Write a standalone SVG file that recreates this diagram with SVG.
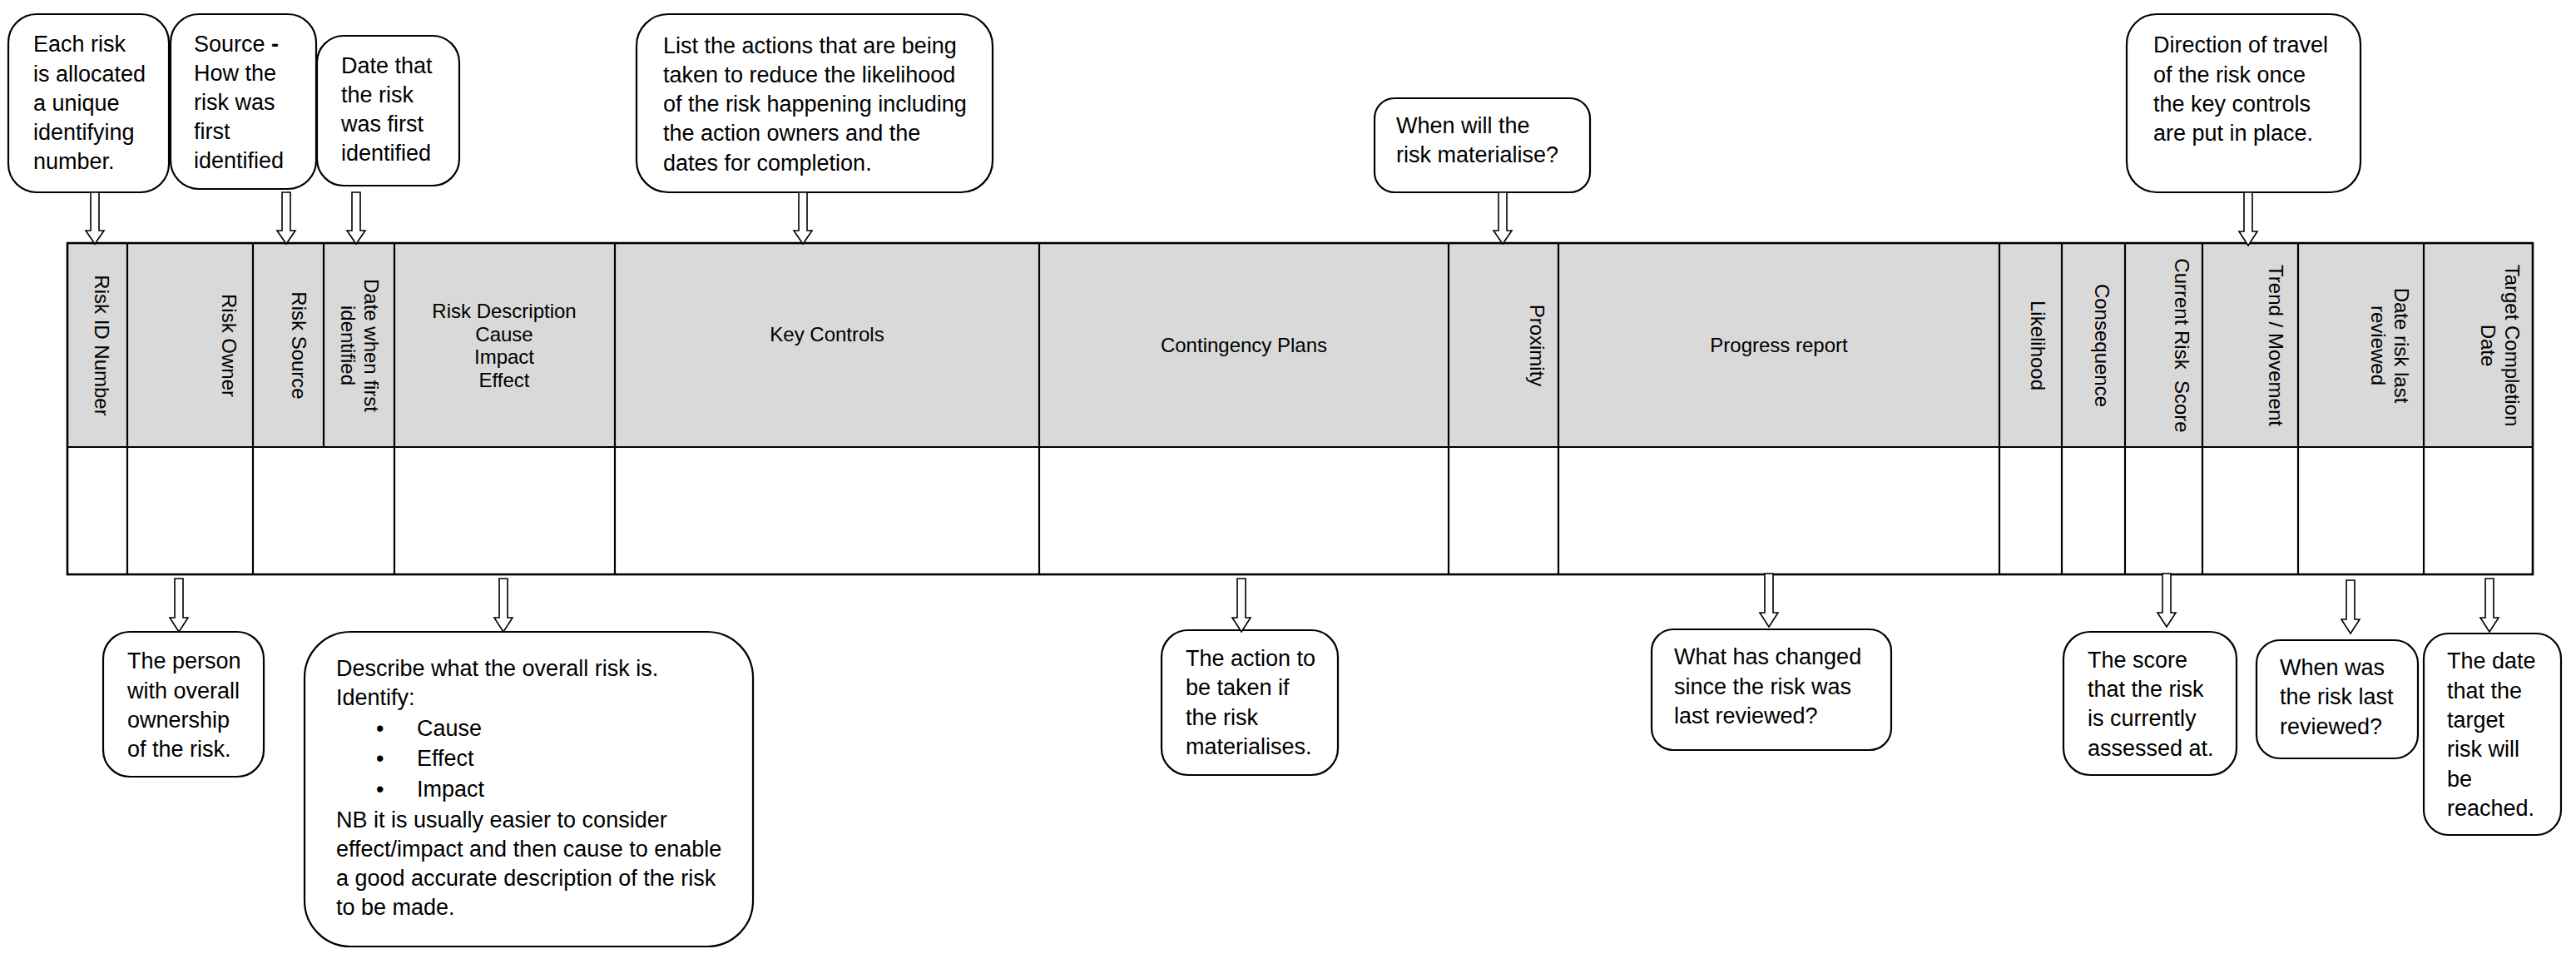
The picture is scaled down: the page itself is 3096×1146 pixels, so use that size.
<svg xmlns="http://www.w3.org/2000/svg" width="3096" height="1146" viewBox="0 0 3096 1146">
  <style>
    .bg { fill: #ffffff; }
    .head { fill: #d9d9d9; }
    .frame { fill: none; stroke: #000; stroke-width: 2.6; }
    .rule { stroke: #000; stroke-width: 2.2; }
    .box { fill: #ffffff; stroke: #000; stroke-width: 2.2; }
    .arrow { fill: #ffffff; stroke: #000; stroke-width: 1.6; stroke-linejoin: miter; }
    .ht { font-family: "Liberation Sans", Arial, sans-serif; font-size: 24px; fill: #000; }
    .ct { font-family: "Liberation Sans", Arial, sans-serif; font-size: 27px; fill: #000; }
    .mid { text-anchor: middle; }
  </style>
  <defs>
    <!-- hollow block arrow pointing down, origin at the tail centre -->
    <path id="blk" d="M -5 0 L 5 0 L 5 46 L 11 46 L 0 62 L -11 46 L -5 46 Z"/>
    <path id="blk64" d="M -5 0 L 5 0 L 5 47 L 11 47 L 0 64 L -11 47 L -5 47 Z"/>
  </defs>
  <rect class="bg" x="0" y="0" width="3096" height="1146"/>

  <!-- register table -->
  <g id="register">
    <rect class="head" x="81" y="292" width="2963" height="245"/>
    <g class="rule">
      <line x1="81" y1="537" x2="3044" y2="537"/>
      <line x1="153" y1="292" x2="153" y2="690"/>
      <line x1="304" y1="292" x2="304" y2="690"/>
      <line x1="389" y1="292" x2="389" y2="537"/>
      <line x1="474" y1="292" x2="474" y2="690"/>
      <line x1="739" y1="292" x2="739" y2="690"/>
      <line x1="1249" y1="292" x2="1249" y2="690"/>
      <line x1="1741" y1="292" x2="1741" y2="690"/>
      <line x1="1873" y1="292" x2="1873" y2="690"/>
      <line x1="2403" y1="292" x2="2403" y2="690"/>
      <line x1="2478" y1="292" x2="2478" y2="690"/>
      <line x1="2554" y1="292" x2="2554" y2="690"/>
      <line x1="2647" y1="292" x2="2647" y2="690"/>
      <line x1="2762" y1="292" x2="2762" y2="690"/>
      <line x1="2913" y1="292" x2="2913" y2="690"/>
    </g>
    <rect class="frame" x="81" y="292" width="2963" height="398"/>

    <!-- column headings -->
    <text class="ht mid" transform="translate(114,415) rotate(90)">Risk ID Number</text>
    <text class="ht mid" transform="translate(267,415) rotate(90)">Risk Owner</text>
    <text class="ht mid" transform="translate(351,415) rotate(90)">Risk Source</text>
    <text class="ht mid" transform="translate(438,415) rotate(90)">Date when first</text>
    <text class="ht mid" transform="translate(410,415) rotate(90)">identified</text>
    <text class="ht mid" x="606" y="382">Risk Description</text>
    <text class="ht mid" x="606" y="409.5">Cause</text>
    <text class="ht mid" x="606" y="437">Impact</text>
    <text class="ht mid" x="606" y="464.5">Effect</text>
    <text class="ht mid" x="994" y="409.5">Key Controls</text>
    <text class="ht mid" x="1495" y="423">Contingency Plans</text>
    <text class="ht mid" transform="translate(1839,415) rotate(90)">Proximity</text>
    <text class="ht mid" x="2138" y="423">Progress report</text>
    <text class="ht mid" transform="translate(2441,415) rotate(90)">Likelihood</text>
    <text class="ht mid" transform="translate(2518,415) rotate(90)">Consequence</text>
    <text class="ht mid" transform="translate(2614,415) rotate(90)">Current Risk&#160; Score</text>
    <text class="ht mid" transform="translate(2727,415) rotate(90)">Trend / Movement</text>
    <text class="ht mid" transform="translate(2878,415) rotate(90)">Date risk last</text>
    <text class="ht mid" transform="translate(2850,415) rotate(90)">reviewed</text>
    <text class="ht mid" transform="translate(3011,415) rotate(90)">Target Completion</text>
    <text class="ht mid" transform="translate(2982,415) rotate(90)">Date</text>
  </g>

  <!-- callouts above the table -->
  <g id="note-id">
    <rect class="box" x="10" y="17" width="193" height="214" rx="34"/>
    <text class="ct" x="40" y="62">Each risk</text>
    <text class="ct" x="40" y="97.5">is allocated</text>
    <text class="ct" x="40" y="133">a unique</text>
    <text class="ct" x="40" y="168">identifying</text>
    <text class="ct" x="40" y="203">number.</text>
  </g>
  <g id="note-source">
    <rect class="box" x="205" y="17" width="175" height="210" rx="34"/>
    <text class="ct" x="233" y="62">Source <tspan font-weight="bold">-</tspan></text>
    <text class="ct" x="233" y="97">How the</text>
    <text class="ct" x="233" y="132">risk was</text>
    <text class="ct" x="233" y="167">first</text>
    <text class="ct" x="233" y="202">identified</text>
  </g>
  <g id="note-date">
    <rect class="box" x="381" y="43" width="171" height="180" rx="32"/>
    <text class="ct" x="410" y="87.5">Date that</text>
    <text class="ct" x="410" y="122.5">the risk</text>
    <text class="ct" x="410" y="157.5">was first</text>
    <text class="ct" x="410" y="192.5">identified</text>
  </g>
  <g id="note-controls">
    <rect class="box" x="765" y="17" width="428" height="214" rx="38"/>
    <text class="ct" x="797" y="63.5">List the actions that are being</text>
    <text class="ct" x="797" y="98.8">taken to reduce the likelihood</text>
    <text class="ct" x="797" y="134.1">of the risk happening including</text>
    <text class="ct" x="797" y="169.4">the action owners and the</text>
    <text class="ct" x="797" y="204.7">dates for completion.</text>
  </g>
  <g id="note-proximity">
    <rect class="box" x="1652" y="118" width="259" height="113" rx="24"/>
    <text class="ct" x="1678" y="160">When will the</text>
    <text class="ct" x="1678" y="195">risk materialise?</text>
  </g>
  <g id="note-trend">
    <rect class="box" x="2556" y="17" width="281" height="214" rx="36"/>
    <text class="ct" x="2588" y="63.3">Direction of travel</text>
    <text class="ct" x="2588" y="98.6">of the risk once</text>
    <text class="ct" x="2588" y="133.9">the key controls</text>
    <text class="ct" x="2588" y="169.2">are put in place.</text>
  </g>

  <!-- callouts below the table -->
  <g id="note-owner">
    <rect class="box" x="124" y="759" width="193" height="174" rx="32"/>
    <text class="ct" x="153" y="803.3">The person</text>
    <text class="ct" x="153" y="838.6">with overall</text>
    <text class="ct" x="153" y="873.9">ownership</text>
    <text class="ct" x="153" y="909.2">of the risk.</text>
  </g>
  <g id="note-description">
    <rect class="box" x="366" y="759" width="539" height="378" rx="55"/>
    <text class="ct" x="404" y="811.7">Describe what the overall risk is.</text>
    <text class="ct" x="404" y="847">Identify:</text>
    <text class="ct" x="452" y="883.5">•</text>
    <text class="ct" x="501" y="883.5">Cause</text>
    <text class="ct" x="452" y="920">•</text>
    <text class="ct" x="501" y="920">Effect</text>
    <text class="ct" x="452" y="956.5">•</text>
    <text class="ct" x="501" y="956.5">Impact</text>
    <text class="ct" x="404" y="994">NB it is usually easier to consider</text>
    <text class="ct" x="404" y="1028.5">effect/impact and then cause to enable</text>
    <text class="ct" x="404" y="1063.8">a good accurate description of the risk</text>
    <text class="ct" x="404" y="1099">to be made.</text>
  </g>
  <g id="note-contingency">
    <rect class="box" x="1396" y="757" width="212" height="174" rx="32"/>
    <text class="ct" x="1425" y="800">The action to</text>
    <text class="ct" x="1425" y="835.3">be taken if</text>
    <text class="ct" x="1425" y="870.6">the risk</text>
    <text class="ct" x="1425" y="905.9">materialises.</text>
  </g>
  <g id="note-progress">
    <rect class="box" x="1985" y="756" width="288" height="145" rx="26"/>
    <text class="ct" x="2012" y="798.3">What has changed</text>
    <text class="ct" x="2012" y="833.6">since the risk was</text>
    <text class="ct" x="2012" y="868.9">last reviewed?</text>
  </g>
  <g id="note-score">
    <rect class="box" x="2480" y="759" width="208" height="172" rx="32"/>
    <text class="ct" x="2509" y="801.7">The score</text>
    <text class="ct" x="2509" y="837">that the risk</text>
    <text class="ct" x="2509" y="872.3">is currently</text>
    <text class="ct" x="2509" y="907.6">assessed at.</text>
  </g>
  <g id="note-reviewed">
    <rect class="box" x="2712" y="769" width="194" height="142" rx="28"/>
    <text class="ct" x="2740" y="811">When was</text>
    <text class="ct" x="2740" y="846.3">the risk last</text>
    <text class="ct" x="2740" y="881.6">reviewed?</text>
  </g>
  <g id="note-target">
    <rect class="box" x="2913" y="761" width="165" height="242" rx="30"/>
    <text class="ct" x="2941" y="803.3">The date</text>
    <text class="ct" x="2941" y="838.6">that the</text>
    <text class="ct" x="2941" y="873.9">target</text>
    <text class="ct" x="2941" y="909.2">risk will</text>
    <text class="ct" x="2941" y="944.5">be</text>
    <text class="ct" x="2941" y="979.8">reached.</text>
  </g>

  <!-- block arrows linking callouts and columns -->
  <g id="connectors" class="arrow">
    <use href="#blk" x="114" y="231"/>
    <use href="#blk" x="344" y="231"/>
    <use href="#blk" x="428" y="231"/>
    <use href="#blk" x="965" y="231"/>
    <use href="#blk" x="1806" y="231"/>
    <use href="#blk64" x="2702" y="231"/>
    <use href="#blk64" x="215" y="695"/>
    <use href="#blk64" x="605" y="695"/>
    <use href="#blk64" x="1492" y="695"/>
    <use href="#blk64" x="2126" y="689"/>
    <use href="#blk64" x="2604" y="689"/>
    <use href="#blk64" x="2825" y="697"/>
    <use href="#blk64" x="2992" y="695"/>
  </g>
</svg>
